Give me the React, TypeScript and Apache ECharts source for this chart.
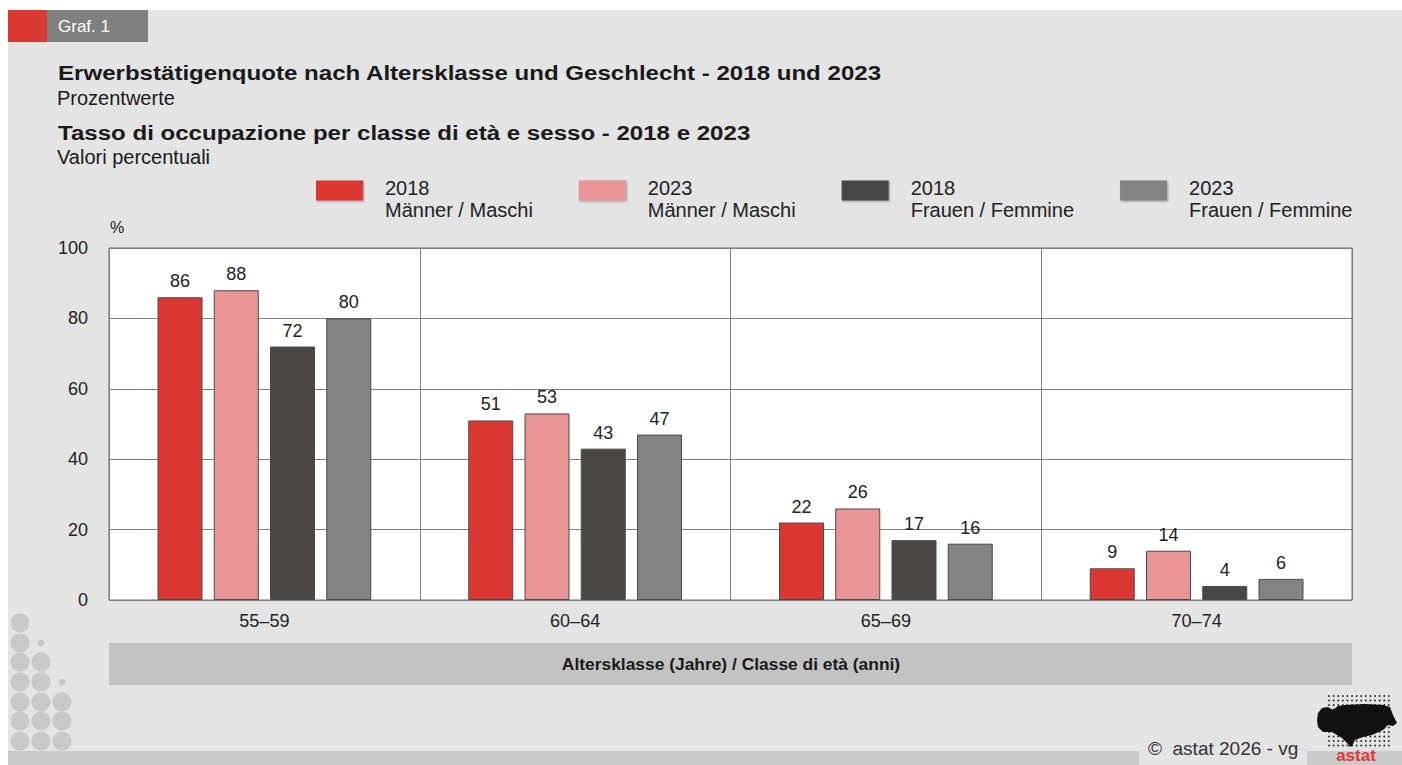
import React, { useEffect, useRef } from "react";
import * as echarts from "echarts";

const categories = ["55–59", "60–64", "65–69", "70–74"];
const seriesNames = [
  "2018\nMänner / Maschi",
  "2023\nMänner / Maschi",
  "2018\nFrauen / Femmine",
  "2023\nFrauen / Femmine",
];
const men2018 = [86, 51, 22, 9];
const men2023 = [88, 53, 26, 14];
const women2018 = [72, 43, 17, 4];
const women2023 = [80, 47, 16, 6];
const seriesValues = [men2018, men2023, women2018, women2023];
const colors = ["#dc3833", "#e99597", "#4a4644", "#838383"];

const titleDe = "Erwerbstätigenquote nach Altersklasse und Geschlecht - 2018 und 2023";
const subDe = "Prozentwerte";
const titleIt = "Tasso di occupazione per classe di età e sesso - 2018 e 2023";
const subIt = "Valori percentuali";
const axisTitle = "Altersklasse (Jahre) / Classe di età (anni)";
const footer = "©  astat 2026 - vg";

const FONT = "'Liberation Sans', Arial, Helvetica, sans-serif";

function buildDecor(): any[] {
  const els: any[] = [];
  // page panel
  els.push({ type: "rect", shape: { x: 8, y: 10, width: 1394, height: 755 }, style: { fill: "#e4e4e4" }, silent: true, z: -10 });
  // bottom strip
  els.push({ type: "rect", shape: { x: 8, y: 751, width: 1131, height: 14 }, style: { fill: "#cacaca" }, silent: true, z: -9 });
  els.push({ type: "rect", shape: { x: 1307, y: 751, width: 95, height: 14 }, style: { fill: "#cacaca" }, silent: true, z: -9 });
  // header
  els.push({ type: "rect", shape: { x: 8, y: 10, width: 39, height: 32 }, style: { fill: "#dc3833" }, silent: true });
  els.push({ type: "rect", shape: { x: 47, y: 10, width: 101, height: 32 }, style: { fill: "#808080" }, silent: true });
  els.push({ type: "text", x: 58, y: 26, style: { text: "Graf. 1", fill: "#ffffff", font: `17px ${FONT}`, verticalAlign: "middle" }, silent: true });
  // titles
  els.push({ type: "text", x: 58, y: 73, scaleX: 1.147, style: { text: titleDe, fill: "#1a1a1a", font: `bold 21px ${FONT}`, verticalAlign: "middle" }, silent: true });
  els.push({ type: "text", x: 57, y: 98, style: { text: subDe, fill: "#1a1a1a", font: `20px ${FONT}`, verticalAlign: "middle" }, silent: true });
  els.push({ type: "text", x: 58, y: 133, scaleX: 1.146, style: { text: titleIt, fill: "#1a1a1a", font: `bold 21px ${FONT}`, verticalAlign: "middle" }, silent: true });
  els.push({ type: "text", x: 57, y: 157, style: { text: subIt, fill: "#1a1a1a", font: `20px ${FONT}`, verticalAlign: "middle" }, silent: true });
  // % label
  els.push({ type: "text", x: 110, y: 227, style: { text: "%", fill: "#222", font: `16px ${FONT}`, verticalAlign: "middle" }, silent: true });
  // axis title band
  els.push({ type: "rect", shape: { x: 109, y: 643, width: 1243, height: 42 }, style: { fill: "#c3c3c3" }, silent: true });
  els.push({ type: "text", x: 731, y: 664, style: { text: axisTitle, fill: "#1a1a1a", font: `bold 17.4px ${FONT}`, align: "center", verticalAlign: "middle" }, silent: true });
  // decorative circles bottom-left
  const colX = [20, 41, 62];
  const rowY = [623, 643, 662, 682, 702, 721, 741];
  const bigRows = [[0, 1, 2, 3, 4, 5, 6], [2, 3, 4, 5, 6], [4, 5, 6]];
  const smallRow = [-1, 1, 3];
  for (let c = 0; c < 3; c++) {
    for (const r of bigRows[c]) {
      els.push({ type: "circle", shape: { cx: colX[c], cy: rowY[r], r: 9.5 }, style: { fill: "#c9c9c9" }, silent: true });
    }
    if (smallRow[c] >= 0) {
      els.push({ type: "circle", shape: { cx: colX[c], cy: rowY[smallRow[c]], r: 3.5 }, style: { fill: "#c9c9c9" }, silent: true });
    }
  }
  // footer
  els.push({ type: "text", x: 1148, y: 748, style: { text: footer, fill: "#333", font: `19px ${FONT}`, verticalAlign: "middle" }, silent: true });
  // logo: dot grid
  for (let i = 0; i < 14; i++) {
    for (let j = 0; j < 12; j++) {
      els.push({ type: "circle", shape: { cx: 1329 + i * 4.6, cy: 696 + j * 4.5, r: 0.9 }, style: { fill: "#222" }, silent: true });
    }
  }
  els.push({
    type: "polygon",
    shape: {
      points: [
        [1318, 713], [1322, 708], [1328, 707], [1333, 710], [1338, 706], [1345, 705], [1365, 704],
        [1383, 705], [1390, 707], [1393, 715], [1397, 723], [1393, 726], [1388, 725], [1383, 730],
        [1372, 735], [1363, 737], [1355, 740], [1352, 746], [1350, 747], [1347, 743], [1342, 738],
        [1332, 732], [1323, 732], [1318, 727], [1317, 720],
      ],
    },
    style: { fill: "#111" },
    silent: true,
  });
  els.push({ type: "text", x: 1356, y: 755, style: { text: "astat", fill: "#e0393a", font: `bold 17px ${FONT}`, align: "center", verticalAlign: "middle" }, silent: true });
  return els;
}

export default function App() {
  const ref = useRef<HTMLDivElement>(null);
  useEffect(() => {
    if (!ref.current) return;
    const chart = echarts.init(ref.current, undefined, { renderer: "svg" });
    const option: any = {
      animation: false,
      backgroundColor: "#ffffff",
      textStyle: { fontFamily: FONT },
      graphic: { elements: buildDecor() },
      legend: {
        left: 316,
        top: 160,
        padding: 0,
        itemWidth: 47,
        itemHeight: 20,
        itemGap: 46,
        icon: "rect",
        selectedMode: false,
        itemStyle: { borderWidth: 0, shadowBlur: 2, shadowOffsetX: 1, shadowOffsetY: 1, shadowColor: "rgba(0,0,0,0.35)" },
        formatter: (name: string) => {
          const [a, b] = name.split("\n");
          return `{s| }\n{t|${a}}\n{t|${b}}`;
        },
        textStyle: {
          fontSize: 20,
          color: "#222",
          lineHeight: 22,
          padding: [0, 0, 0, 17],
          fontFamily: FONT,
          rich: {
            s: { fontSize: 4, lineHeight: 17 },
            t: { fontSize: 20, lineHeight: 22, color: "#222", fontFamily: FONT },
          },
        },
        data: seriesNames,
      },
      grid: {
        left: 109,
        top: 248,
        width: 1243,
        height: 352,
        show: true,
        backgroundColor: "#ffffff",
        borderColor: "#6e6e6e",
        borderWidth: 1,
      },
      xAxis: {
        type: "category",
        data: categories,
        axisLine: { show: false },
        axisTick: { show: false },
        splitLine: { show: true, lineStyle: { color: "#7f7f7f", width: 1 } },
        axisLabel: { fontSize: 18, color: "#222", margin: 12, fontFamily: FONT },
      },
      yAxis: {
        type: "value",
        min: 0,
        max: 100,
        interval: 20,
        axisLine: { show: false },
        axisTick: { show: false },
        splitLine: { lineStyle: { color: "#7f7f7f", width: 1 } },
        axisLabel: { fontSize: 18, color: "#222", margin: 21, fontFamily: FONT },
      },
      series: seriesValues.map((vals, i) => ({
        type: "bar",
        name: seriesNames[i],
        data: vals,
        barWidth: 45,
        barGap: "25%",
        itemStyle: { color: colors[i], borderColor: "#4a4a4a", borderWidth: 1 },
        label: { show: true, position: "top", distance: 7, fontSize: 18, color: "#222", fontFamily: FONT },
      })),
    };
    chart.setOption(option);
    return () => chart.dispose();
  }, []);
  return (
    <div
      ref={ref}
      style={{ position: "fixed", left: 0, top: 0, width: 1402, height: 765 }}
    />
  );
}
